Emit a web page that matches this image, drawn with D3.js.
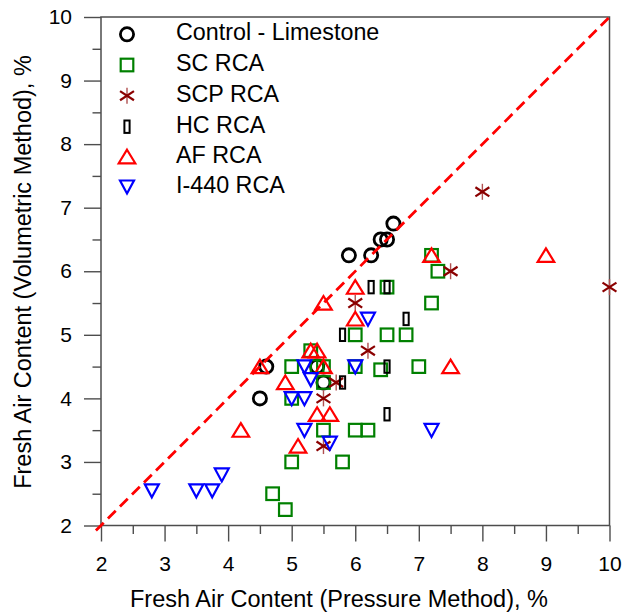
<!DOCTYPE html>
<html><head><meta charset="utf-8">
<script src="https://cdn.jsdelivr.net/npm/d3@7"></script>
<style>body{margin:0;background:#fff}svg{display:block}text{font-family:"Liberation Sans",Arial,sans-serif;fill:#000}</style>
</head><body>
<script>
const seriesNames = ["Control - Limestone","SC RCA","SCP RCA","HC RCA","AF RCA","I-440 RCA"];
const controlX = [4.5,4.6,5.4,5.5,5.9,6.25,6.4,6.5,6.6];
const controlY = [4.0,4.5,4.5,4.25,6.25,6.25,6.5,6.5,6.75];
const scX = [7.2,7.3,7.2,6.5,6.0,6.5,6.8,5.3,5.0,5.4,5.5,6.0,6.4,7.0,5.5,5.0,5.5,6.0,6.2,5.0,5.8,4.7,4.9];
const scY = [6.25,6.0,5.5,5.75,5.0,5.0,5.0,4.75,4.5,4.5,4.5,4.5,4.45,4.5,4.25,4.0,3.5,3.5,3.5,3.0,3.0,2.5,2.25];
const scpX = [8.0,7.5,10.0,6.0,6.2,5.7,5.5,5.5];
const scpY = [7.25,6.0,5.75,5.5,4.75,4.25,4.0,3.25];
const hcX = [6.25,6.5,5.8,6.8,6.5,5.8,6.5];
const hcY = [5.75,5.75,5.0,5.25,4.5,4.25,3.75];
const afX = [7.2,9.0,6.0,5.5,6.0,5.3,5.4,4.5,5.5,7.5,4.9,5.4,5.6,4.2,5.1];
const afY = [6.25,6.25,5.75,5.5,5.25,4.75,4.75,4.5,4.5,4.5,4.25,3.75,3.75,3.5,3.25];
const i440X = [6.2,5.2,6.0,5.3,5.0,5.2,5.2,5.6,7.2,3.9,2.8,3.5,3.75];
const i440Y = [5.25,4.5,4.5,4.3,4.0,4.0,3.5,3.3,3.5,2.8,2.55,2.55,2.55];
const xTicks = [2,3,4,5,6,7,8,9,10];
const yTicks = [2,3,4,5,6,7,8,9,10];
const minorTicks = [2.5,3.5,4.5,5.5,6.5,7.5,8.5,9.5];
const xTitle = "Fresh Air Content (Pressure Method), %";
const yTitle = "Fresh Air Content (Volumetric Method), %";

const W=623,H=612;
const L=101,R=609.5,T=17,B=525.5;
const svg=d3.select("body").append("svg").attr("width",W).attr("height",H);
const x=d3.scaleLinear().domain([2,10]).range([L,R]);
const y=d3.scaleLinear().domain([2,10]).range([B,T]);
const axisColor="#4d4d4d";

// axes
const gx=svg.append("g").attr("transform",`translate(0,${B})`);
gx.call(d3.axisBottom(x).tickValues(minorTicks).tickSize(8.5).tickFormat(""));
gx.call(g=>g.select(".domain").remove());
const gx2=svg.append("g").attr("transform",`translate(0,${B})`);
gx2.call(d3.axisBottom(x).tickValues(xTicks).tickSize(16).tickPadding(11).tickFormat(d3.format("d")));
gx2.select(".domain").remove();
gx2.selectAll("text").attr("font-size",21).attr("dy","0.9em").attr("font-family","Liberation Sans, Arial, sans-serif");
const gy=svg.append("g").attr("transform",`translate(${L},0)`);
gy.call(d3.axisLeft(y).tickValues(minorTicks).tickSize(8.5).tickFormat(""));
gy.select(".domain").remove();
const gy2=svg.append("g").attr("transform",`translate(${L},0)`);
gy2.call(d3.axisLeft(y).tickValues(yTicks).tickSize(17).tickPadding(12).tickFormat(d3.format("d")));
gy2.select(".domain").remove();
gy2.selectAll("text").attr("font-size",21).attr("font-family","Liberation Sans, Arial, sans-serif");
svg.selectAll(".tick line").attr("stroke",axisColor).attr("stroke-width",1.4);
svg.selectAll(".tick text").attr("fill","#000");
svg.append("rect").attr("x",L).attr("y",T).attr("width",R-L).attr("height",B-T)
  .attr("fill","none").attr("stroke",axisColor).attr("stroke-width",1.5);

// titles
svg.append("text").attr("x",339).attr("y",607).attr("text-anchor","middle")
  .attr("font-size",23.5).text(xTitle);
svg.append("text").attr("transform",`translate(25,272) rotate(-90)`).attr("text-anchor","middle").attr("dominant-baseline","middle")
  .attr("font-size",23.5).text(yTitle);

// marker drawers
const red="#ff0000", green="#008000", blue="#0000ff", dred="#8b0000";
function drawMarker(g,type){
  if(type===0){
    g.append("circle").attr("r",6.6).attr("fill","none").attr("stroke","#000").attr("stroke-width",2.8);
  } else if(type===1){
    g.append("rect").attr("x",-6.3).attr("y",-6.3).attr("width",12.6).attr("height",12.6)
      .attr("fill","none").attr("stroke",green).attr("stroke-width",2.2);
  } else if(type===2){
    const a=8.3, ang=33*Math.PI/180;
    g.append("line").attr("x1",0).attr("y1",-8).attr("x2",0).attr("y2",8).attr("stroke","#b05050").attr("stroke-width",1.4);
    g.append("line").attr("x1",-a*Math.cos(ang)).attr("y1",-a*Math.sin(ang)).attr("x2",a*Math.cos(ang)).attr("y2",a*Math.sin(ang)).attr("stroke",dred).attr("stroke-width",2.2);
    g.append("line").attr("x1",-a*Math.cos(ang)).attr("y1",a*Math.sin(ang)).attr("x2",a*Math.cos(ang)).attr("y2",-a*Math.sin(ang)).attr("stroke",dred).attr("stroke-width",2.2);
  } else if(type===3){
    g.append("rect").attr("x",-2.6).attr("y",-6.2).attr("width",5.2).attr("height",12.4)
      .attr("fill","none").attr("stroke","#000").attr("stroke-width",2);
  } else if(type===4){
    g.append("path").attr("d","M0,-7 L8.3,6.6 L-8.3,6.6 Z").attr("fill","none").attr("stroke",red).attr("stroke-width",2.2).attr("stroke-linejoin","miter");
  } else if(type===5){
    g.append("path").attr("d","M0,6.8 L7,-6.2 L-7,-6.2 Z").attr("fill","none").attr("stroke",blue).attr("stroke-width",2.2);
  }
}
const series=[[controlX,controlY],[scX,scY],[scpX,scpY],[hcX,hcY],[afX,afY],[i440X,i440Y]];
const plot=svg.append("g");
series.forEach((s,i)=>{
  const pts=s[0].map((v,j)=>[v,s[1][j]]);
  plot.selectAll(null).data(pts).enter().append("g")
    .attr("transform",d=>`translate(${x(d[0])},${y(d[1])})`)
    .each(function(){drawMarker(d3.select(this),i);});
});

// 1:1 line
svg.append("line").attr("x1",x(1.92)).attr("y1",y(1.92)).attr("x2",x(10)).attr("y2",y(10))
  .attr("stroke",red).attr("stroke-width",2.8).attr("stroke-dasharray","11,6");

// legend
const legRows=[34.3,65,95.7,126.7,156.7,186.7];
seriesNames.forEach((n,i)=>{
  const g=svg.append("g").attr("transform",`translate(127,${legRows[i]})`);
  drawMarker(g,i);
  svg.append("text").attr("x",176).attr("y",legRows[i]).attr("dominant-baseline","middle")
    .attr("font-size",23.3).text(n);
});
</script>
</body></html>
